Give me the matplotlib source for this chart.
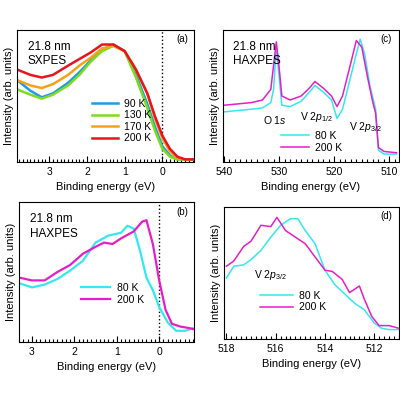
import numpy as np
import matplotlib.pyplot as plt
from matplotlib.ticker import MultipleLocator

plt.rcParams['font.family'] = ['Liberation Sans', 'DejaVu Sans']
plt.rcParams['font.size'] = 7.5
plt.rcParams['mathtext.fontset'] = 'custom'
plt.rcParams['mathtext.it'] = 'Liberation Sans:italic'
plt.rcParams['mathtext.rm'] = 'Liberation Sans'

# (a) SXPES valence band
ea = [3.85, 3.5, 3.2, 2.9, 2.5, 2.2, 1.9, 1.6, 1.3, 1.0, 0.7, 0.4, 0.2, 0.0, -0.2, -0.4, -0.6, -0.85]
a_90 = [0.62, 0.54, 0.49, 0.52, 0.60, 0.68, 0.77, 0.85, 0.89, 0.84, 0.66, 0.44, 0.27, 0.12, 0.05, 0.02, 0.02, 0.02]
a_130 = [0.55, 0.51, 0.48, 0.51, 0.58, 0.66, 0.76, 0.84, 0.88, 0.84, 0.64, 0.41, 0.24, 0.10, 0.04, 0.02, 0.02, 0.02]
a_170 = [0.62, 0.58, 0.56, 0.59, 0.66, 0.73, 0.79, 0.86, 0.88, 0.84, 0.70, 0.52, 0.33, 0.18, 0.08, 0.03, 0.02, 0.02]
a_200 = [0.70, 0.66, 0.64, 0.66, 0.73, 0.78, 0.83, 0.89, 0.89, 0.84, 0.70, 0.52, 0.35, 0.20, 0.10, 0.04, 0.02, 0.02]

# (b) HAXPES valence band
eb = [3.3, 3.0, 2.7, 2.4, 2.1, 1.8, 1.5, 1.2, 0.9, 0.75, 0.6, 0.45, 0.3, 0.15, 0.0, -0.2, -0.4, -0.6, -0.83]
b_80 = [0.42, 0.39, 0.41, 0.45, 0.51, 0.58, 0.71, 0.76, 0.78, 0.83, 0.81, 0.65, 0.46, 0.37, 0.25, 0.14, 0.08, 0.08, 0.10]
eb2 = [3.3, 3.0, 2.7, 2.4, 2.1, 1.8, 1.5, 1.3, 1.1, 0.9, 0.6, 0.4, 0.3, 0.15, 0.0, -0.15, -0.3, -0.5, -0.7, -0.83]
b_200 = [0.46, 0.44, 0.44, 0.50, 0.55, 0.63, 0.68, 0.71, 0.70, 0.74, 0.79, 0.86, 0.87, 0.70, 0.44, 0.23, 0.13, 0.11, 0.10, 0.09]

# (c) HAXPES core levels
ec = [540, 535, 533, 531.5, 531, 530.5, 530, 529.5, 528, 526, 524.5, 523.5, 522, 520.5, 519.5, 518.5,
      517, 516, 515.3, 514.5, 513.5, 512.5, 512, 511, 508.7]
c_80 = [0.38, 0.40, 0.41, 0.45, 0.55, 0.87, 0.65, 0.43, 0.42, 0.46, 0.53, 0.58, 0.53, 0.47, 0.33, 0.40,
        0.65, 0.82, 0.93, 0.82, 0.57, 0.40, 0.09, 0.06, 0.06]
ec2 = [540, 535, 533, 531.5, 530.5, 530, 529.5, 528, 526, 524.5, 523.5, 522, 520.5, 519.5, 518.5,
       517, 516, 515, 514, 513, 512.5, 512, 511, 508.7]
c_200 = [0.43, 0.45, 0.47, 0.55, 0.91, 0.72, 0.50, 0.47, 0.50, 0.56, 0.61, 0.56, 0.50, 0.42, 0.50,
         0.75, 0.92, 0.87, 0.65, 0.45, 0.37, 0.11, 0.08, 0.07]

# (d) V 2p3/2 zoom
ed = [518, 517.7, 517.3, 517, 516.6, 516.2, 515.8, 515.4, 515.1, 514.8, 514.4, 514, 513.6, 513.2,
      512.8, 512.4, 512, 511.7, 511.4, 511]
d_80 = [0.46, 0.55, 0.56, 0.60, 0.67, 0.77, 0.86, 0.91, 0.91, 0.82, 0.72, 0.52, 0.41, 0.34,
        0.27, 0.22, 0.12, 0.08, 0.07, 0.07]
ed2 = [518, 517.7, 517.3, 517, 516.6, 516.2, 515.95, 515.6, 515.2, 514.8, 514.4, 514, 513.7, 513.3,
       513, 512.6, 512.4, 512.1, 511.8, 511.4, 511]
d_200 = [0.55, 0.59, 0.70, 0.74, 0.86, 0.85, 0.92, 0.82, 0.77, 0.72, 0.62, 0.52, 0.51, 0.45,
         0.35, 0.40, 0.30, 0.17, 0.10, 0.10, 0.08]

c_blue, c_green, c_orange, c_red = '#1e9be8', '#7cdc1e', '#f5a21a', '#e8141e'
c_cyan, c_mag = '#33e8ee', '#e61ec8'

fig = plt.figure(figsize=(4, 4), dpi=100)
ax_a = fig.add_axes([0.043, 0.595, 0.443, 0.33])
ax_c = fig.add_axes([0.557, 0.595, 0.44, 0.33])
ax_b = fig.add_axes([0.048, 0.145, 0.438, 0.35])
ax_d = fig.add_axes([0.56, 0.153, 0.437, 0.33])


def style(ax, xlim, major, minor, tag):
    ax.set_xlim(*xlim)
    ax.xaxis.set_major_locator(MultipleLocator(major))
    ax.xaxis.set_minor_locator(MultipleLocator(minor))
    ax.tick_params(axis='x', which='both', direction='in', top=False)
    ax.tick_params(axis='x', which='major', length=4, width=0.8)
    ax.tick_params(axis='x', which='minor', length=2.5, width=0.8)
    ax.set_yticks([])
    ax.set_ylim(0, 1.0)
    ax.set_xlabel('Binding energy (eV)', fontsize=8)
    ax.set_ylabel('Intensity (arb. units)', fontsize=8, labelpad=2)
    ax.text(0.93, 0.93, tag, transform=ax.transAxes, fontsize=7, ha='center', va='center')


style(ax_a, (3.85, -0.85), 1, 0.1, '(a)')
ax_a.axvline(0, color='k', ls=':', lw=1)
for y, c, lab in [(a_90, c_blue, '90 K'), (a_130, c_green, '130 K'),
                  (a_170, c_orange, '170 K'), (a_200, c_red, '200 K')]:
    ax_a.plot(ea, y, color=c, lw=1.8, label=lab)
ax_a.legend(loc='lower left', bbox_to_anchor=(0.37, 0.07), frameon=False, fontsize=7.5,
            handlelength=2.5, labelspacing=0.15, handletextpad=0.6)
ax_a.text(0.06, 0.92, '21.8 nm\nSXPES', transform=ax_a.transAxes, fontsize=8.5, va='top', linespacing=1.3)

style(ax_b, (3.3, -0.83), 1, 0.1, '(b)')
ax_b.axvline(0, color='k', ls=':', lw=1)
ax_b.plot(eb, b_80, color=c_cyan, lw=1.6, label='80 K')
ax_b.plot(eb2, b_200, color=c_mag, lw=1.6, label='200 K')
ax_b.legend(loc='lower left', bbox_to_anchor=(0.3, 0.2), frameon=False, fontsize=7.5,
            handlelength=2.8, labelspacing=0.15, handletextpad=0.6)
ax_b.text(0.06, 0.92, '21.8 nm\nHAXPES', transform=ax_b.transAxes, fontsize=8.5, va='top', linespacing=1.3)

style(ax_c, (540.2, 508.3), 10, 1, '(c)')
ax_c.plot(ec, c_80, color=c_cyan, lw=1.1, label='80 K')
ax_c.plot(ec2, c_200, color=c_mag, lw=1.1, label='200 K')
ax_c.legend(loc='lower left', bbox_to_anchor=(0.28, 0.0), frameon=False, fontsize=7.5,
            handlelength=2.6, labelspacing=0.15, handletextpad=0.6)
ax_c.text(0.06, 0.92, '21.8 nm\nHAXPES', transform=ax_c.transAxes, fontsize=8.5, va='top', linespacing=1.3)
ax_c.text(530.7, 0.29, 'O 1$s$', fontsize=7.5, ha='center')
ax_c.text(523.3, 0.32, 'V 2$p_{1/2}$', fontsize=7.5, ha='center')
ax_c.text(514.3, 0.24, 'V 2$p_{3/2}$', fontsize=7.5, ha='center')

style(ax_d, (518.1, 511.0), 2, 0.2, '(d)')
ax_d.plot(ed, d_80, color=c_cyan, lw=1.1, label='80 K')
ax_d.plot(ed2, d_200, color=c_mag, lw=1.1, label='200 K')
ax_d.legend(loc='lower left', bbox_to_anchor=(0.15, 0.13), frameon=False, fontsize=7.5,
            handlelength=3.2, labelspacing=0.15, handletextpad=0.6)
ax_d.text(516.9, 0.46, 'V 2$p_{3/2}$', fontsize=7.5)

fig.savefig('out.png', dpi=100)
